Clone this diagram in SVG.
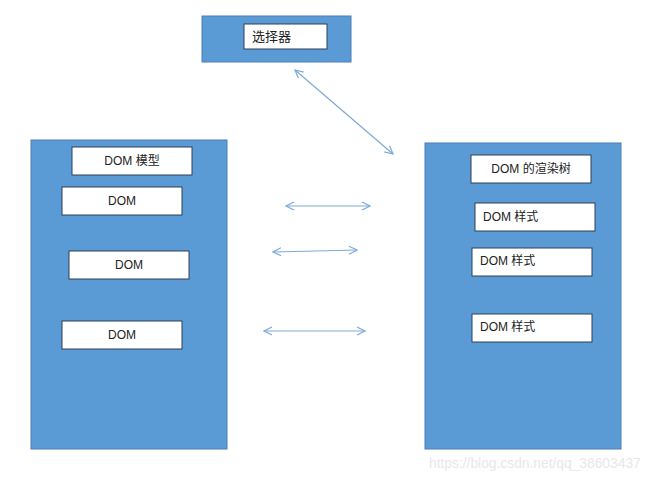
<svg xmlns="http://www.w3.org/2000/svg" width="650" height="480" viewBox="0 0 650 480">
<style>
.panel{fill:#5b9bd5;stroke:#4a7fb5;stroke-width:1}
.box{fill:#ffffff;stroke:#2f3f55;stroke-width:1}
.t{font-family:"Liberation Sans","Noto Sans CJK SC",sans-serif;font-size:12px;fill:#222}
.c{text-anchor:middle}
.conn{stroke:#7ea9d8;stroke-width:1.2;fill:none;marker-start:url(#ah);marker-end:url(#ah)}
</style>
<defs>
<marker id="ah" viewBox="0 0 10 10" refX="9" refY="5" markerWidth="10" markerHeight="10" markerUnits="userSpaceOnUse" orient="auto-start-reverse">
<path d="M1,1 L9,5 L1,9" fill="none" stroke="#7ea9d8" stroke-width="1.2"/>
</marker>
</defs>
<rect width="650" height="480" fill="#ffffff"/>
<g id="selector">
<rect class="panel" x="202" y="16" width="149" height="46"/>
<rect class="box" x="244" y="24" width="83" height="25"/>
<text class="t" x="252" y="41" style="font-size:13px">选择器</text>
</g>
<g id="dom-model">
<rect class="panel" x="31" y="140" width="196" height="309"/>
<rect class="box" x="72" y="147" width="120" height="28"/>
<text class="t c" x="132" y="165">DOM 模型</text>
<rect class="box" x="62" y="187" width="120" height="28"/>
<text class="t c" x="122" y="205">DOM</text>
<rect class="box" x="69" y="251" width="120" height="28"/>
<text class="t c" x="129" y="269">DOM</text>
<rect class="box" x="62" y="321" width="120" height="28"/>
<text class="t c" x="122" y="339">DOM</text>
</g>
<g id="render-tree">
<rect class="panel" x="425" y="143" width="196" height="306"/>
<rect class="box" x="471" y="155" width="120" height="28"/>
<text class="t c" x="531" y="173">DOM 的渲染树</text>
<rect class="box" x="475" y="203" width="120" height="28"/>
<text class="t" x="483" y="221">DOM 样式</text>
<rect class="box" x="472" y="248" width="120" height="28"/>
<text class="t" x="480" y="265">DOM 样式</text>
<rect class="box" x="472" y="314" width="120" height="28"/>
<text class="t" x="480" y="331">DOM 样式</text>
</g>
<g id="connectors">
<line class="conn" x1="295" y1="70" x2="393" y2="154"/>
<line class="conn" x1="286" y1="206" x2="370" y2="206"/>
<line class="conn" x1="273" y1="252" x2="357" y2="250"/>
<line class="conn" x1="264" y1="331" x2="365" y2="331"/>
</g>
<text x="429" y="468" style="font-family:'Liberation Sans',sans-serif;font-size:13.8px;fill:#e6e8ec">https://blog.csdn.net/qq_38603437</text>
</svg>
